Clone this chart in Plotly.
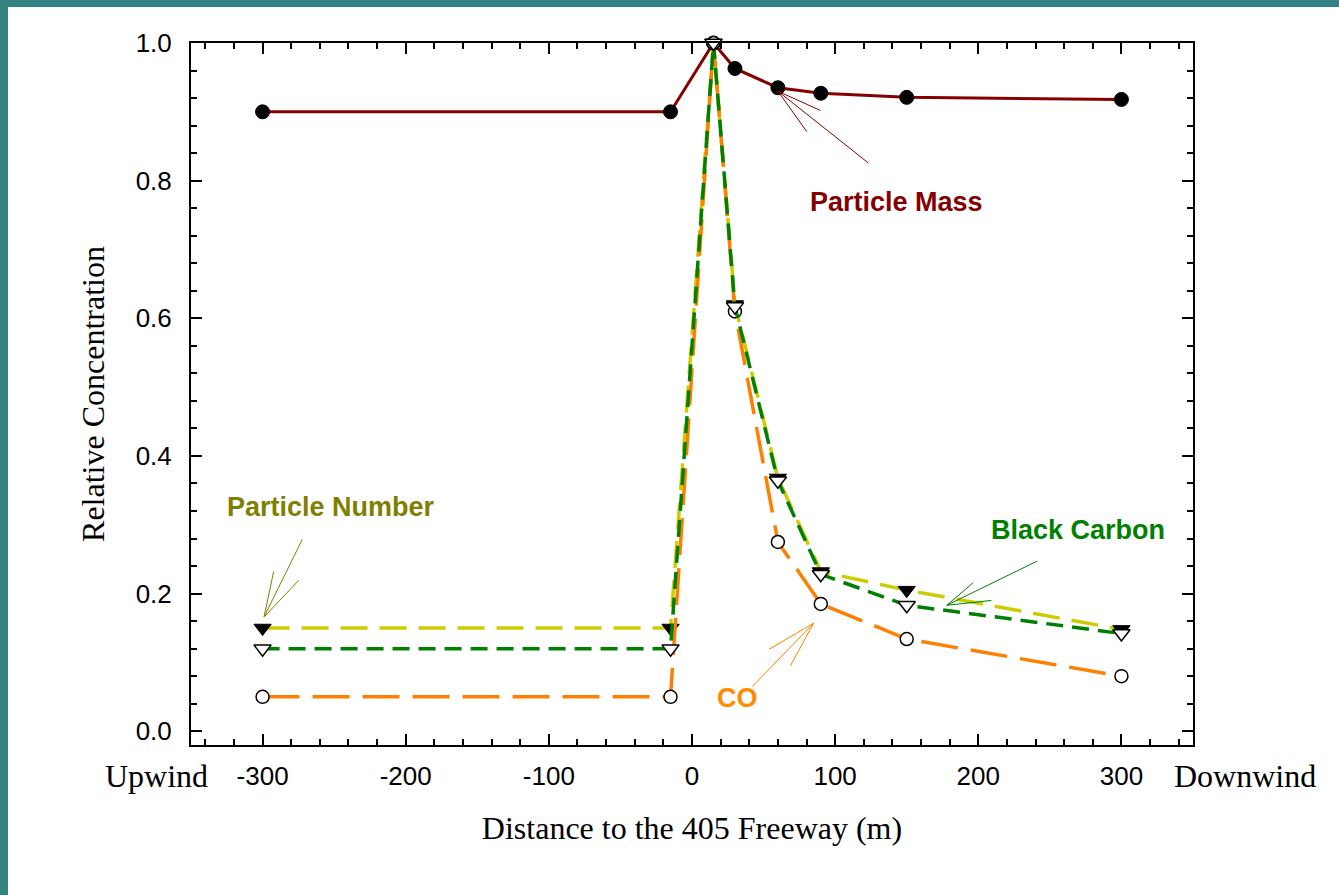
import plotly.graph_objects as go

# ---------------- data ----------------
distance = [-300, -15, 15, 30, 60, 90, 150, 300]
particle_mass = [0.90, 0.90, 1.0, 0.963, 0.935, 0.927, 0.921, 0.918]
particle_number = [0.15, 0.15, 1.0, 0.62, 0.368, 0.232, 0.205, 0.148]
black_carbon = [0.12, 0.12, 1.0, 0.617, 0.364, 0.228, 0.183, 0.142]
co_values = [0.05, 0.05, 1.0, 0.61, 0.275, 0.185, 0.134, 0.08]

x_tick_values = [-300, -200, -100, 0, 100, 200, 300]
x_tick_labels = [str(v) for v in x_tick_values]
y_tick_values = [0.0, 0.2, 0.4, 0.6, 0.8, 1.0]
y_tick_labels = [f"{v:.1f}" for v in y_tick_values]

# ---------------- styles ----------------
PM_COLOR = "#850000"
PN_LINE = "#CCCC00"
PN_TEXT = "#808000"
BC_COLOR = "#008000"
CO_LINE = "#FF8000"
CO_TEXT = "#FF8C00"
TEAL = "#348282"
SERIF = "Liberation Serif, Times New Roman, serif"
SANS = "Liberation Sans, Arial, sans-serif"

fig = go.Figure()

fig.add_trace(go.Scatter(
    x=distance, y=particle_mass, mode="lines+markers", name="Particle Mass",
    line=dict(color=PM_COLOR, width=3),
    marker=dict(symbol="circle", size=14, color="black", line=dict(color="black", width=1)),
    cliponaxis=False))

fig.add_trace(go.Scatter(
    x=distance, y=particle_number, mode="lines+markers", name="Particle Number",
    line=dict(color=PN_LINE, width=3.5, dash="27px,12px"),
    marker=dict(symbol="triangle-down", size=15, color="black", line=dict(color="black", width=1)),
    cliponaxis=False))

fig.add_trace(go.Scatter(
    x=distance, y=co_values, mode="lines+markers", name="CO",
    line=dict(color=CO_LINE, width=3.5, dash="37px,13px"),
    marker=dict(symbol="circle", size=13, color="white", line=dict(color="black", width=1.5)),
    cliponaxis=False))

fig.add_trace(go.Scatter(
    x=distance, y=black_carbon, mode="lines+markers", name="Black Carbon",
    line=dict(color=BC_COLOR, width=3.5, dash="17px,9px"),
    marker=dict(symbol="triangle-down", size=15, color="white", line=dict(color="black", width=1.5)),
    cliponaxis=False))

# ---------------- annotations ----------------
ann = []

def label(text, x, y, color, size=27):
    ann.append(dict(text=f"<b>{text}</b>", x=x, y=y, xref="x", yref="y", showarrow=False,
                    font=dict(family=SANS, size=size, color=color), xanchor="center", yanchor="middle"))

def arrow(x, y, offsets, color):
    for ax, ay in offsets:
        ann.append(dict(text="", x=x, y=y, xref="x", yref="y", ax=ax, ay=ay,
                        showarrow=True, arrowhead=0, arrowwidth=1, arrowcolor=color, standoff=0))

label("Particle Mass", 143, 0.769, PM_COLOR)
label("Particle Number", -252, 0.326, PN_TEXT)
label("Black Carbon", 270, 0.292, BC_COLOR)
label("CO", 32, 0.048, CO_TEXT)

arrow(60, 0.93, [(92, 73), (30, 42), (44, 20)], PM_COLOR)
arrow(-299, 0.166, [(39, -79), (10, -47), (36, -38)], PN_TEXT)
arrow(178, 0.183, [(92, -45), (28, -24), (46, -5)], BC_COLOR)
arrow(85, 0.157, [(-63, 65), (-46, 27), (-24, 44)], CO_LINE)

ann.append(dict(text="Upwind", x=-0.034, y=-0.044, xref="paper", yref="paper", showarrow=False,
                font=dict(family=SERIF, size=32, color="black"), xanchor="center", yanchor="middle"))
ann.append(dict(text="Downwind", x=1.052, y=-0.044, xref="paper", yref="paper", showarrow=False,
                font=dict(family=SERIF, size=32, color="black"), xanchor="center", yanchor="middle"))

# white slide panel
shapes = [dict(type="rect", xref="paper", yref="paper", x0=-0.1826, x1=1.2, y0=-0.25, y1=1.0513,
               fillcolor="white", line=dict(width=0), layer="below")]

axis_common = dict(
    showline=True, linecolor="black", linewidth=2, mirror="ticks",
    ticks="inside", ticklen=11, tickwidth=1.5, tickcolor="black",
    showgrid=False, zeroline=False,
    tickfont=dict(family=SANS, size=26, color="black"),
)

fig.update_layout(
    width=1339, height=895,
    margin=dict(l=191, r=146, t=43, b=150),
    paper_bgcolor=TEAL, plot_bgcolor="white",
    showlegend=False,
    annotations=ann, shapes=shapes,
    xaxis=dict(range=[-350, 350], tickvals=x_tick_values, ticktext=x_tick_labels, ticklabelstandoff=7,
               minor=dict(dtick=20, tick0=0, ticks="inside", ticklen=6, tickcolor="black", tickwidth=1.5, showgrid=False),
               title=dict(text="Distance to the 405 Freeway (m)", standoff=26,
                          font=dict(family=SERIF, size=32, color="black")),
               **axis_common),
    yaxis=dict(range=[-0.02, 1.0], tickvals=y_tick_values, ticktext=y_tick_labels, ticklabelstandoff=12,
               minor=dict(dtick=0.04, tick0=0, ticks="inside", ticklen=6, tickcolor="black", tickwidth=1.5, showgrid=False),
               title=dict(text="Relative Concentration", standoff=21,
                          font=dict(family=SERIF, size=32, color="black")),
               **axis_common),
)

fig.write_html(
    "out.html",
    config={"displayModeBar": False},
    post_script="document.body.style.margin='0';document.body.style.background='" + TEAL + "';",
)
